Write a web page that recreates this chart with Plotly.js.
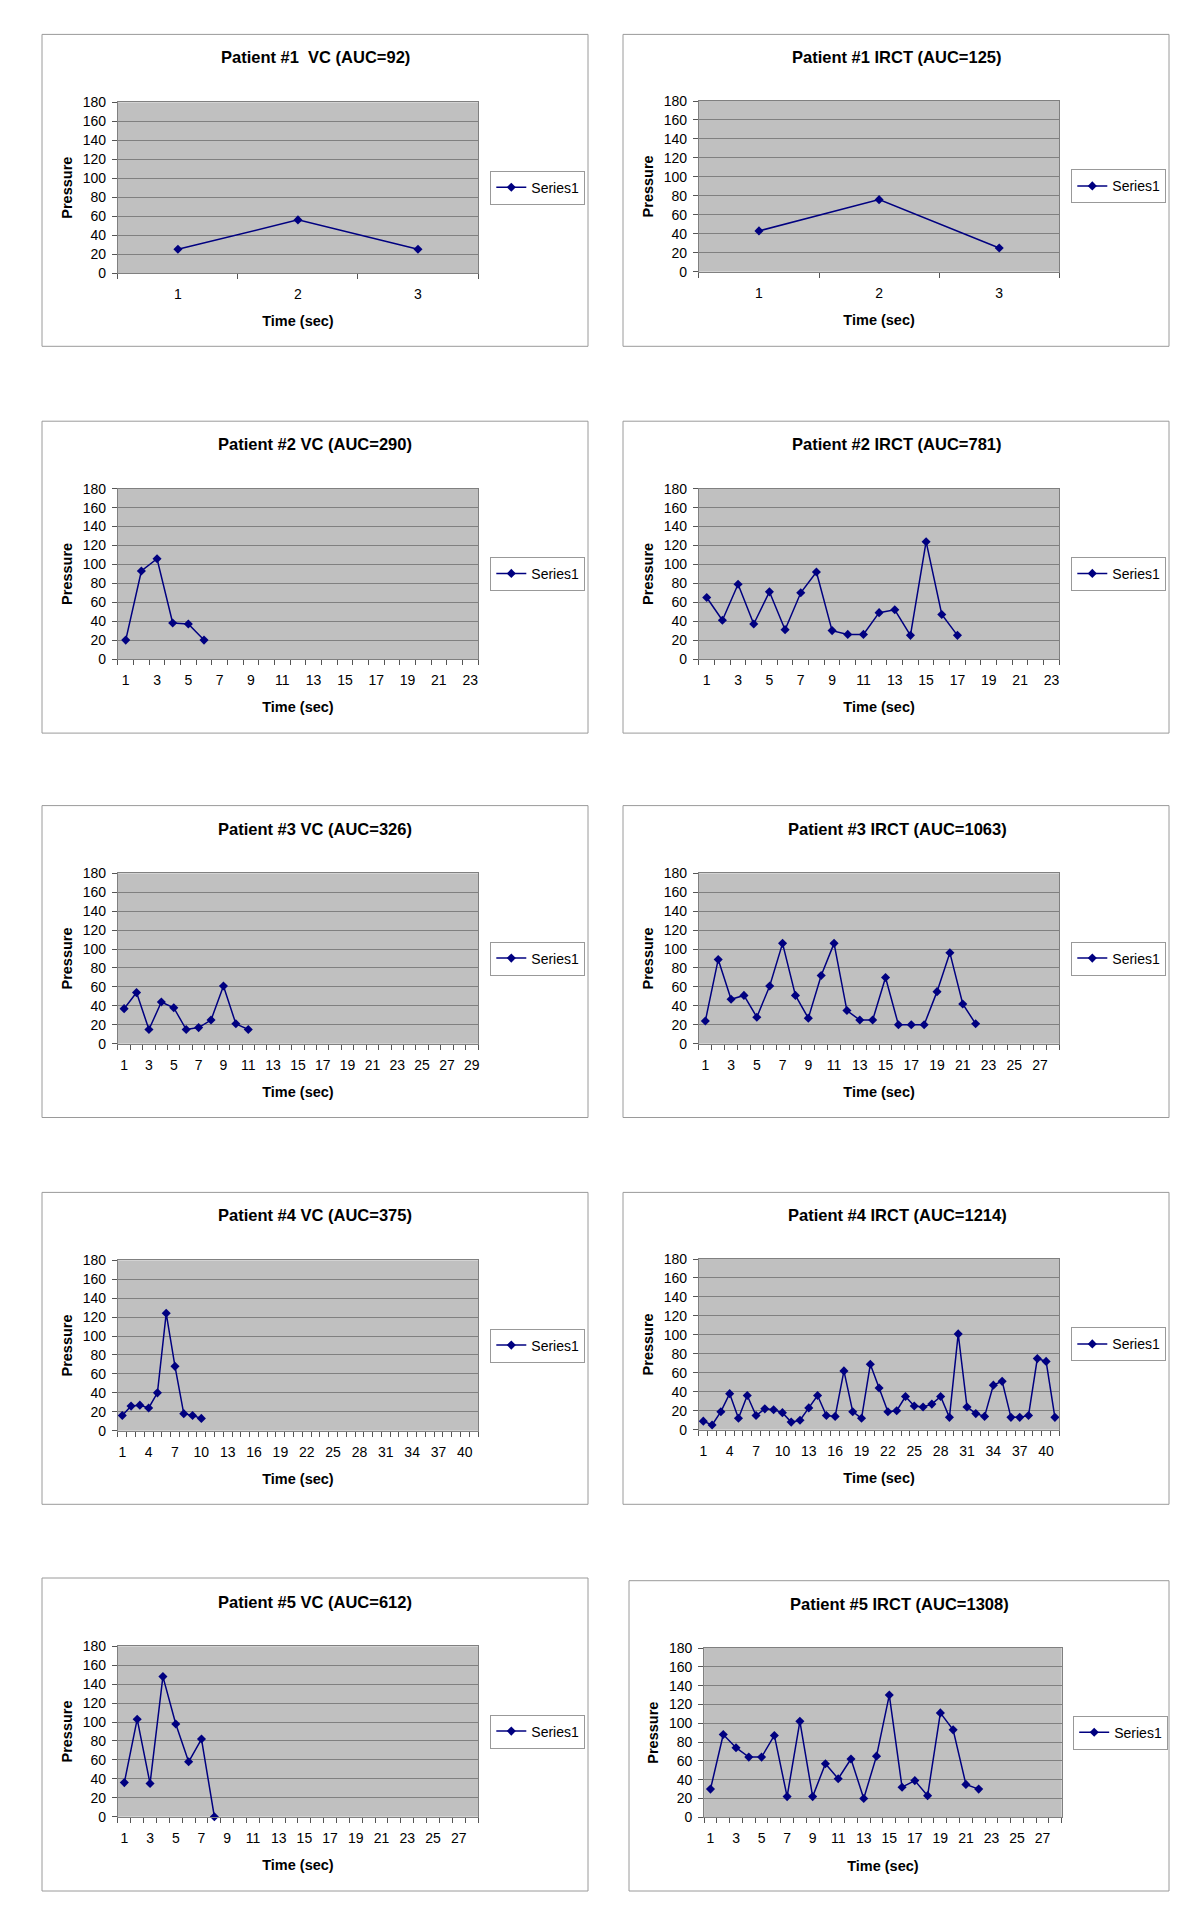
<!DOCTYPE html>
<html>
<head>
<meta charset="utf-8">
<script src="https://cdn.plot.ly/plotly-3.0.1.min.js"></script>
<style>
html,body{margin:0;padding:0;background:#ffffff;}
#chart{width:1200px;height:1925px;}
</style>
</head>
<body>
<div id="chart"></div>
<script>
// ---------- DATA (pressure readings per second) ----------
const p1vc   = [25, 56, 25];
const p1irct = [43, 76, 25];
const p2vc   = [20, 93, 106, 38, 37, 20];
const p2irct = [65, 41, 79, 37, 71, 31, 70, 92, 30, 26, 26, 49, 52, 25, 124, 47, 25];
const p3vc   = [37, 54, 15, 44, 38, 15, 17, 25, 61, 21, 15];
const p3irct = [24, 89, 47, 51, 28, 61, 106, 51, 27, 72, 106, 35, 25, 25, 70, 20, 20, 20, 55, 96, 42, 21];
const p4vc   = [16, 26, 27, 24, 40, 124, 68, 18, 16, 13];
const p4irct = [9, 5, 19, 38, 12, 36, 15, 22, 21, 18, 8, 10, 23, 36, 15, 14, 62, 19, 12, 69,
                44, 19, 20, 35, 25, 24, 27, 35, 13, 101, 24, 17, 14, 47, 51, 13, 13, 15, 75, 72, 13];
const p5vc   = [36, 103, 35, 148, 98, 58, 82, 0];
const p5irct = [30, 88, 74, 64, 64, 87, 22, 102, 22, 57, 41, 62, 20, 65, 130, 32, 39, 23, 111, 93, 35, 30];

// category labels shown on the time axes
const ticks3  = ['1', '2', '3'];
const ticks23 = ['1', '3', '5', '7', '9', '11', '13', '15', '17', '19', '21', '23'];
const ticks29 = ['1', '3', '5', '7', '9', '11', '13', '15', '17', '19', '21', '23', '25', '27', '29'];
const ticks27 = ['1', '3', '5', '7', '9', '11', '13', '15', '17', '19', '21', '23', '25', '27'];
const ticks40 = ['1', '4', '7', '10', '13', '16', '19', '22', '25', '28', '31', '34', '37', '40'];

// number of time categories on each axis
const slots = [3, 3, 23, 23, 29, 28, 41, 41, 28, 28];

const titles = [
  'Patient #1 \u00a0VC (AUC=92)', 'Patient #1 IRCT (AUC=125)',
  'Patient #2 VC (AUC=290)',     'Patient #2 IRCT (AUC=781)',
  'Patient #3 VC (AUC=326)',     'Patient #3 IRCT (AUC=1063)',
  'Patient #4 VC (AUC=375)',     'Patient #4 IRCT (AUC=1214)',
  'Patient #5 VC (AUC=612)',     'Patient #5 IRCT (AUC=1308)'
];
const series = [p1vc, p1irct, p2vc, p2irct, p3vc, p3irct, p4vc, p4irct, p5vc, p5irct];
const tickSets = [ticks3, ticks3, ticks23, ticks23, ticks29, ticks27, ticks40, ticks40, ticks27, ticks27];
const seriesName = 'Series1';
const xTitle = 'Time (sec)';
const yTitle = 'Pressure';

// ---------- LAYOUT GEOMETRY (pixels) ----------
const W = 1200, H = 1925;
const FONT = '"Liberation Sans", Arial, Helvetica, sans-serif';
// plot: [x0, x1, yTop, yBottom]; box: [x0, x1, yTop, yBottom]; title: [cx, cy]; legend: [left, centerY]
const geom = [
  {plot:[117.9, 478.0, 102.3, 273.0],  box:[42, 588, 34.4, 346.3],   title:[315.3, 57.3],  legend:[490.3, 187.6]},
  {plot:[698.9, 1059.3, 101.0, 271.7], box:[623, 1169, 34.4, 346.3], title:[897.0, 56.7],  legend:[1071.3, 186.3]},
  {plot:[117.9, 478.0, 488.7, 659.0],  box:[42, 588, 421.2, 733.1],  title:[315.3, 444.3], legend:[490.3, 573.8]},
  {plot:[698.9, 1059.3, 488.7, 659.0], box:[623, 1169, 421.2, 733.1], title:[897.0, 444.3], legend:[1071.3, 573.8]},
  {plot:[117.9, 478.0, 873.3, 1043.7], box:[42, 588, 805.6, 1117.5], title:[315.3, 828.7], legend:[490.3, 958.5]},
  {plot:[698.9, 1059.3, 873.3, 1043.7], box:[623, 1169, 805.6, 1117.5], title:[897.0, 828.7], legend:[1071.3, 958.5]},
  {plot:[117.9, 478.0, 1260.3, 1430.7], box:[42, 588, 1192.4, 1504.3], title:[315.3, 1215.3], legend:[490.3, 1345.5]},
  {plot:[698.9, 1059.3, 1259.0, 1429.7], box:[623, 1169, 1192.4, 1504.3], title:[897.0, 1215.3], legend:[1071.3, 1344.3]},
  {plot:[117.9, 478.0, 1646.3, 1816.7], box:[42, 588, 1578.0, 1891.0], title:[315.3, 1602.0], legend:[490.3, 1731.5]},
  {plot:[704.1, 1061.7, 1648.0, 1817.3], box:[629, 1169, 1580.7, 1891.0], title:[899.8, 1603.7], legend:[1073.2, 1732.7]}
];

const traces = [];
const layout = {
  width: W, height: H,
  margin: {l: 0, r: 0, t: 0, b: 0},
  paper_bgcolor: '#ffffff',
  plot_bgcolor: '#c0c0c0',
  font: {family: FONT, color: '#000000', size: 14},
  showlegend: true,
  annotations: [],
  shapes: []
};

series.forEach((vals, i) => {
  const n = i + 1;
  const sfx = n > 1 ? String(n) : '';
  const g = geom[i];
  const nSlots = slots[i];
  const tk = tickSets[i];

  traces.push({
    type: 'scatter',
    mode: 'lines+markers',
    x: vals.map((_, k) => k + 1),
    y: vals,
    name: seriesName,
    xaxis: 'x' + sfx,
    yaxis: 'y' + sfx,
    legend: 'legend' + sfx,
    line: {color: '#000080', width: 1.5},
    marker: {symbol: 'diamond', size: 7, color: '#000080'},
    cliponaxis: false,
    hoverinfo: 'x+y'
  });

  layout['xaxis' + sfx] = {
    domain: [g.plot[0] / W, g.plot[1] / W],
    anchor: 'y' + sfx,
    range: [0.5, nSlots + 0.5],
    tickmode: 'array',
    tickvals: tk.map(Number),
    ticktext: tk,
    ticks: '',
    ticklabelstandoff: 8,
    minor: {
      tickmode: 'array',
      tickvals: Array.from({length: nSlots + 1}, (_, k) => k + 0.5),
      ticks: 'outside', ticklen: 5, tickwidth: 1, tickcolor: '#555555', showgrid: false
    },
    showgrid: false, zeroline: false,
    showline: true, mirror: true, linecolor: '#808080', linewidth: 1,
    tickfont: {size: 14, family: FONT},
    title: {text: xTitle, font: {size: 14.5, weight: 'bold', family: FONT}, standoff: 15},
    fixedrange: true
  };

  layout['yaxis' + sfx] = {
    domain: [1 - g.plot[3] / H, 1 - g.plot[2] / H],
    anchor: 'x' + sfx,
    range: [0, 180],
    tickmode: 'linear', tick0: 0, dtick: 20,
    ticks: 'outside', ticklen: 5, tickwidth: 1, tickcolor: '#555555',
    ticklabelstandoff: 3,
    showgrid: true, gridcolor: '#808080', gridwidth: 1,
    zeroline: false,
    showline: true, mirror: true, linecolor: '#808080', linewidth: 1,
    tickfont: {size: 14, family: FONT},
    title: {text: yTitle, font: {size: 14.5, weight: 'bold', family: FONT}, standoff: 6},
    fixedrange: true
  };

  layout['legend' + sfx] = {
    x: g.legend[0] / W, y: 1 - g.legend[1] / H,
    xanchor: 'left', yanchor: 'middle',
    bgcolor: '#ffffff', bordercolor: '#999999', borderwidth: 1,
    font: {size: 14, family: FONT}
  };

  layout.shapes.push({
    type: 'rect', xref: 'paper', yref: 'paper', layer: 'below',
    x0: g.box[0] / W, x1: g.box[1] / W,
    y0: 1 - g.box[3] / H, y1: 1 - g.box[2] / H,
    line: {color: '#9a9a9a', width: 1}, fillcolor: 'rgba(0,0,0,0)'
  });

  layout.annotations.push({
    text: titles[i], xref: 'paper', yref: 'paper',
    x: g.title[0] / W, y: 1 - g.title[1] / H,
    xanchor: 'center', yanchor: 'middle', showarrow: false,
    font: {size: 16.5, weight: 'bold', family: FONT, color: '#000000'}
  });
});

Plotly.newPlot('chart', traces, layout, {staticPlot: true, displayModeBar: false});
</script>
</body>
</html>
